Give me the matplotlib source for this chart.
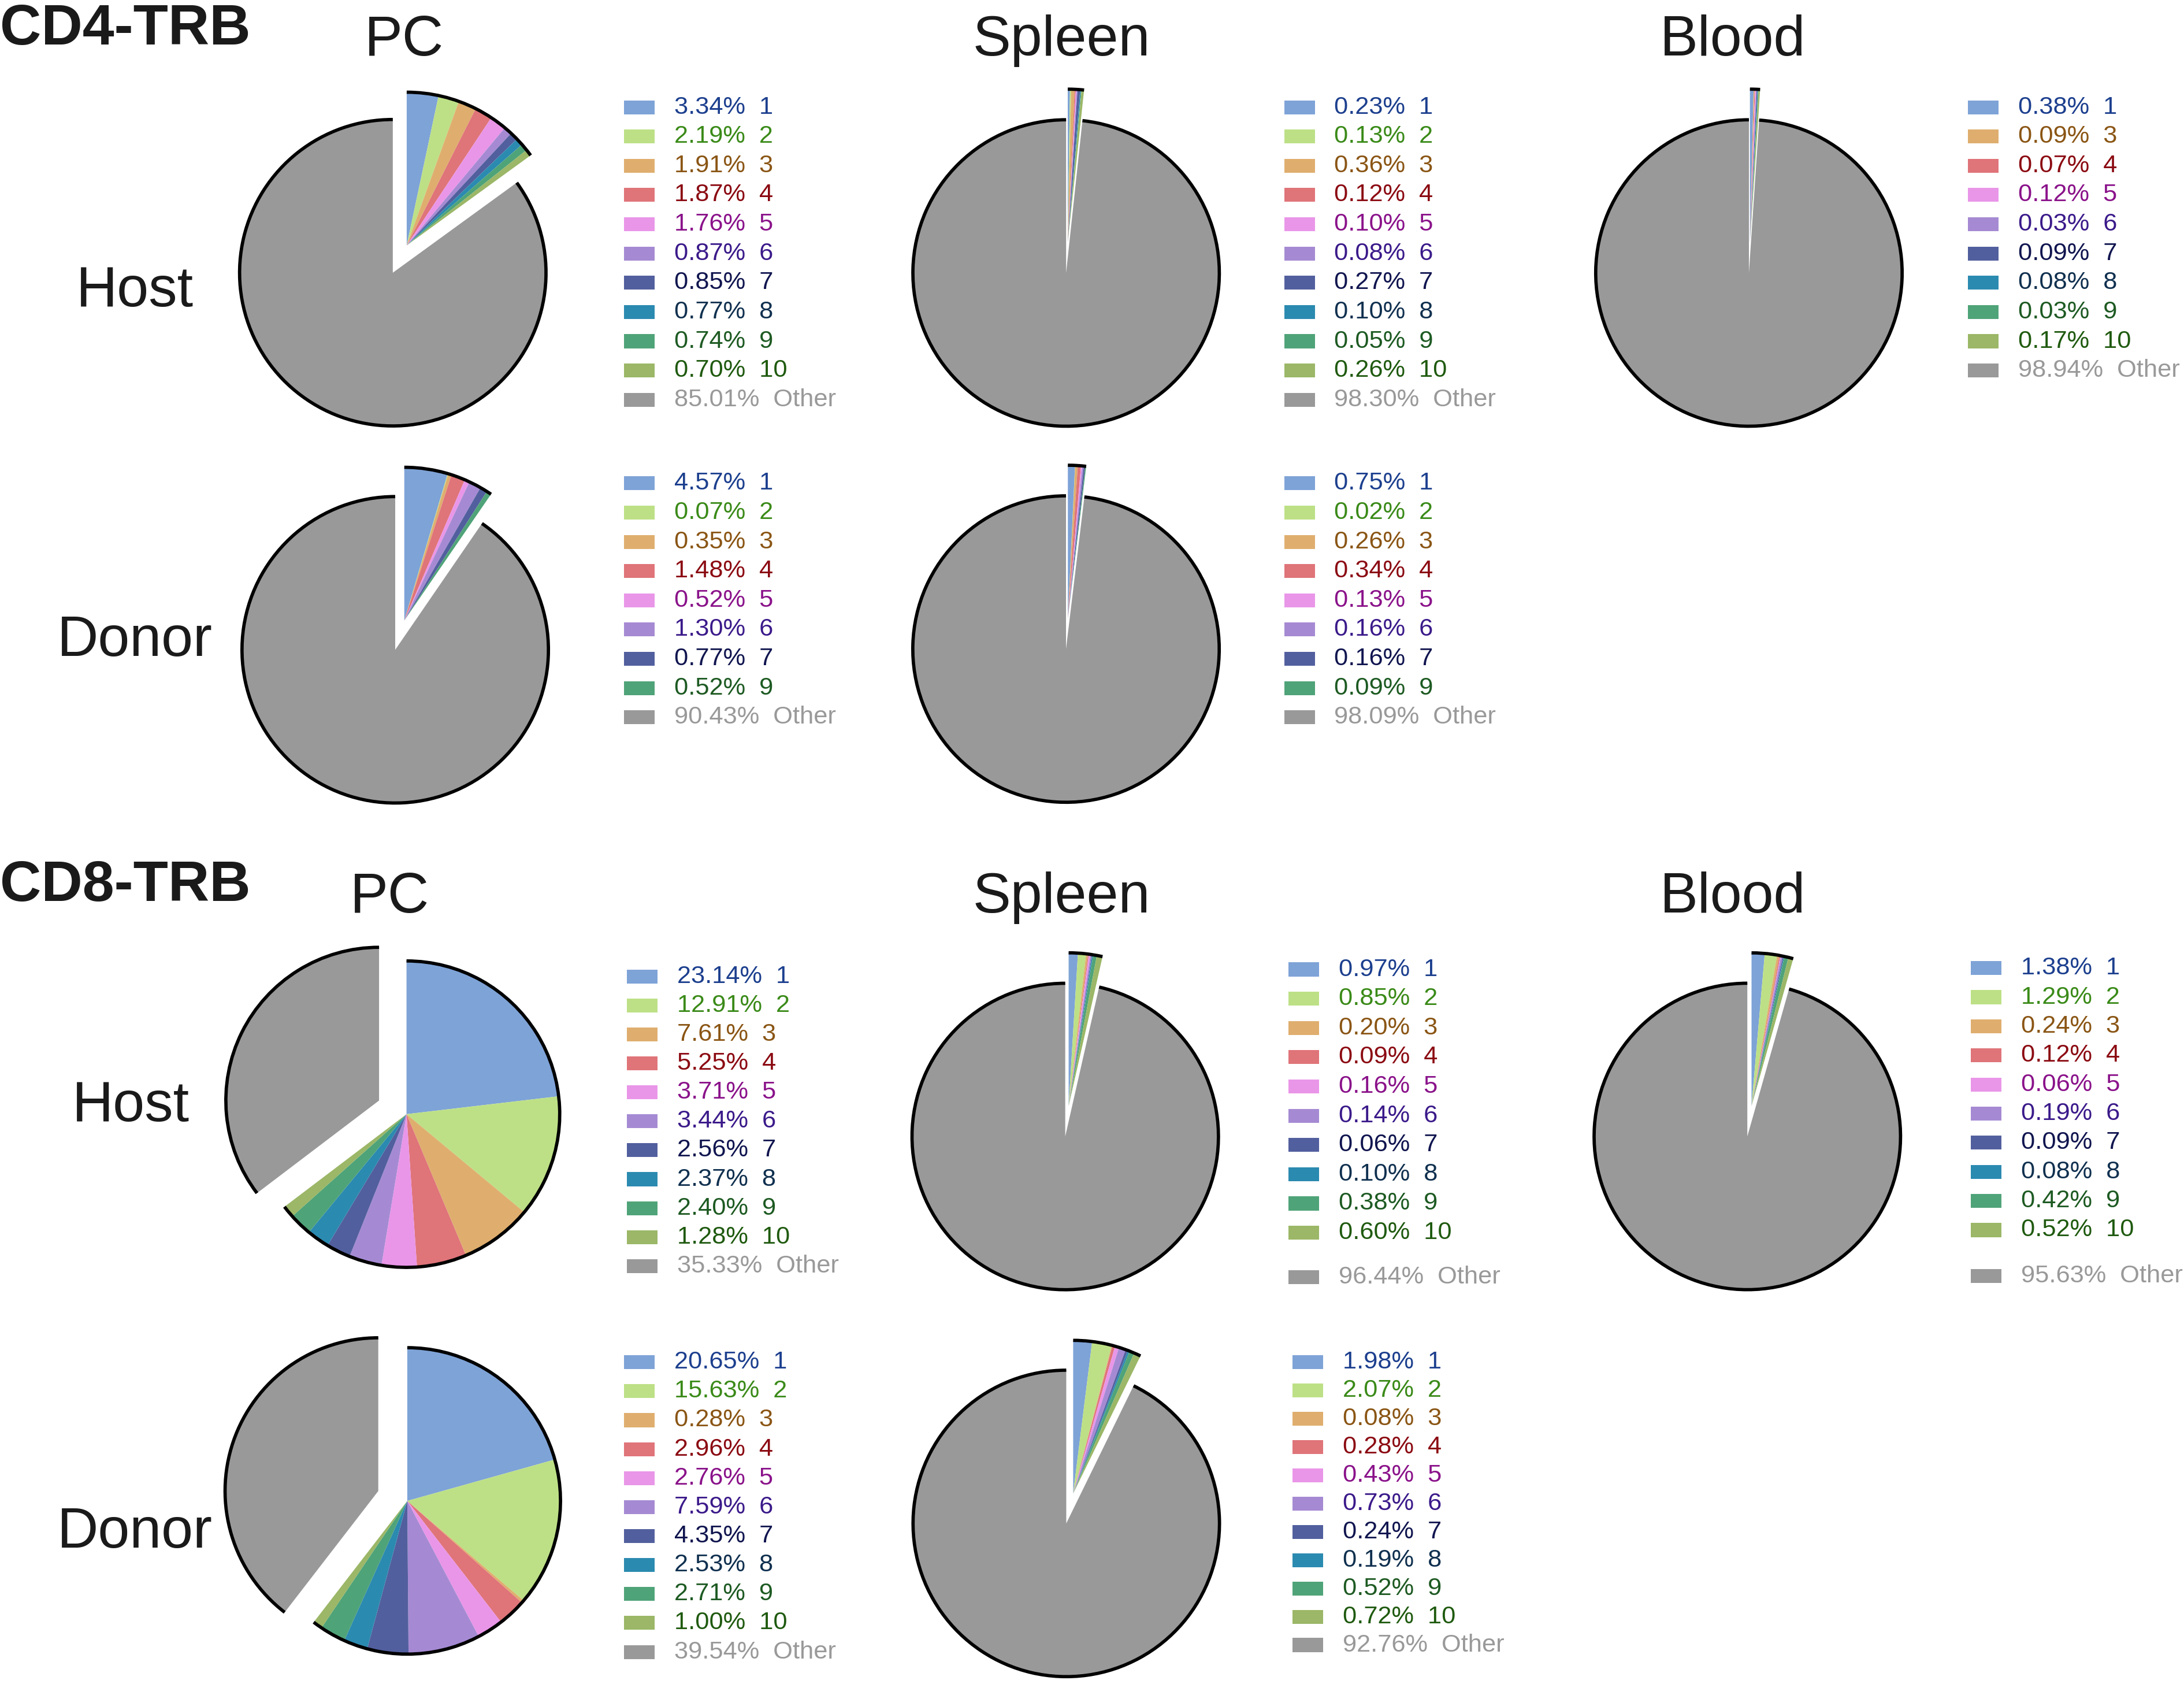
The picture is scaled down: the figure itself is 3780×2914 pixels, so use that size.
import numpy as np
import matplotlib.pyplot as plt
from matplotlib.patches import Arc, Rectangle

plt.rcParams['font.family'] = ['Liberation Sans', 'DejaVu Sans']

# reference grid (1568 x 1209 units), y measured from the top
W, H = 1568, 1209
PT = 0.72          # points per grid unit

fill_colors = {'1': '#7ea3d7', '2': '#bde086', '3': '#dfae6e', '4': '#df7479',
               '5': '#e996e8', '6': '#a58ad3', '7': '#525f9e', '8': '#2b8ab0',
               '9': '#4fa378', '10': '#9bb767', 'Other': '#999999'}
text_colors = {'1': '#1c3f8e', '2': '#3a8a18', '3': '#8a5514', '4': '#8b0a12',
               '5': '#8a128a', '6': '#3b1a8a', '7': '#10154f', '8': '#10304f',
               '9': '#1d5a22', '10': '#1f5a0f', 'Other': '#999999'}

# ---------------- data ----------------
ids_all = ['1', '2', '3', '4', '5', '6', '7', '8', '9', '10', 'Other']
ids_no8_10 = ['1', '2', '3', '4', '5', '6', '7', '9', 'Other']
ids_no2 = ['1', '3', '4', '5', '6', '7', '8', '9', '10', 'Other']

cd4_pc_host = [3.34, 2.19, 1.91, 1.87, 1.76, 0.87, 0.85, 0.77, 0.74, 0.70, 85.01]
cd4_spleen_host = [0.23, 0.13, 0.36, 0.12, 0.10, 0.08, 0.27, 0.10, 0.05, 0.26, 98.30]
cd4_blood_host = [0.38, 0.09, 0.07, 0.12, 0.03, 0.09, 0.08, 0.03, 0.17, 98.94]
cd4_pc_donor = [4.57, 0.07, 0.35, 1.48, 0.52, 1.30, 0.77, 0.52, 90.43]
cd4_spleen_donor = [0.75, 0.02, 0.26, 0.34, 0.13, 0.16, 0.16, 0.09, 98.09]

cd8_pc_host = [23.14, 12.91, 7.61, 5.25, 3.71, 3.44, 2.56, 2.37, 2.40, 1.28, 35.33]
cd8_spleen_host = [0.97, 0.85, 0.20, 0.09, 0.16, 0.14, 0.06, 0.10, 0.38, 0.60, 96.44]
cd8_blood_host = [1.38, 1.29, 0.24, 0.12, 0.06, 0.19, 0.09, 0.08, 0.42, 0.52, 95.63]
cd8_pc_donor = [20.65, 15.63, 0.28, 2.96, 2.76, 7.59, 4.35, 2.53, 2.71, 1.00, 39.54]
cd8_spleen_donor = [1.98, 2.07, 0.08, 0.28, 0.43, 0.73, 0.24, 0.19, 0.52, 0.72, 92.76]

# panel: values, ids, pie centre (x, y), legend x, legend first row y, row step, extra gap before Other
panels = [
    (cd4_pc_host, ids_all, (287, 186), 448, 77, 21.0, 0),
    (cd4_spleen_host, ids_all, (766, 185), 922, 77, 21.0, 0),
    (cd4_blood_host, ids_no2, (1256, 185), 1413, 77, 21.0, 0),
    (cd4_pc_donor, ids_no8_10, (287, 456), 448, 347, 21.0, 0),
    (cd4_spleen_donor, ids_no8_10, (766, 455), 922, 347, 21.0, 0),
    (cd8_pc_host, ids_all, (282, 795), 450, 701, 20.8, 0),
    (cd8_spleen_host, ids_all, (766, 805), 925, 696, 21.0, 11),
    (cd8_blood_host, ids_all, (1256, 805), 1415, 695, 20.9, 12),
    (cd8_pc_donor, ids_all, (282, 1074), 448, 978, 20.8, 0),
    (cd8_spleen_donor, ids_all, (768, 1083), 928, 978, 20.3, 0),
]

R = 110
EXPLODE = 11

fig = plt.figure(figsize=(3780 / 241, 2914 / 241), dpi=241)
ax = fig.add_axes([0, 0, 1, 1])

for vals, ids, (cx, cy), lx, ly, step, gap in panels:
    cols = [fill_colors[i] for i in ids]
    wedges = ax.pie(vals, colors=cols, center=(cx, H - cy), radius=R,
                    startangle=90, counterclock=False, frame=True,
                    wedgeprops=dict(linewidth=0, antialiased=True))[0]
    # two groups: top clones and Other, pushed apart
    groups = [wedges[:-1], wedges[-1:]]
    for grp in groups:
        t1 = min(w.theta1 for w in grp)
        t2 = max(w.theta2 for w in grp)
        mid = np.deg2rad((t1 + t2) / 2)
        c = (cx + EXPLODE * np.cos(mid), H - cy + EXPLODE * np.sin(mid))
        for w in grp:
            w.set_center(c)
        ax.add_patch(Arc(c, 2 * R, 2 * R, theta1=t1, theta2=t2,
                         color='black', lw=1.7, zorder=3))
    # legend
    for k, (v, i) in enumerate(zip(vals, ids)):
        y = ly + k * step + (gap if i == 'Other' else 0)
        ax.add_patch(Rectangle((lx, H - y - 5), 22, 10, color=fill_colors[i], lw=0))
        ax.text(lx + 36, H - y, '%.2f%%  %s' % (v, i), color=text_colors[i],
                fontsize=18 * PT, va='center')

# titles
for txt, x, y in [('PC', 290, 40), ('Spleen', 762, 40), ('Blood', 1244, 40),
                  ('PC', 280, 655), ('Spleen', 762, 655), ('Blood', 1244, 655)]:
    ax.text(x, H - y, txt, fontsize=41 * PT, ha='center', va='baseline', color='#1a1a1a')
for txt, x, y in [('Host', 97, 220), ('Donor', 97, 471), ('Host', 94, 805), ('Donor', 97, 1111)]:
    ax.text(x, H - y, txt, fontsize=41 * PT, ha='center', va='baseline', color='#1a1a1a')
ax.text(0, H - 32, 'CD4-TRB', fontsize=41 * PT, fontweight='bold', ha='left', va='baseline', color='#1a1a1a')
ax.text(0, H - 647, 'CD8-TRB', fontsize=41 * PT, fontweight='bold', ha='left', va='baseline', color='#1a1a1a')

ax.set_xlim(0, W)
ax.set_ylim(0, H)
ax.set_aspect('auto')
ax.axis('off')

fig.savefig('out.png', dpi=241)
